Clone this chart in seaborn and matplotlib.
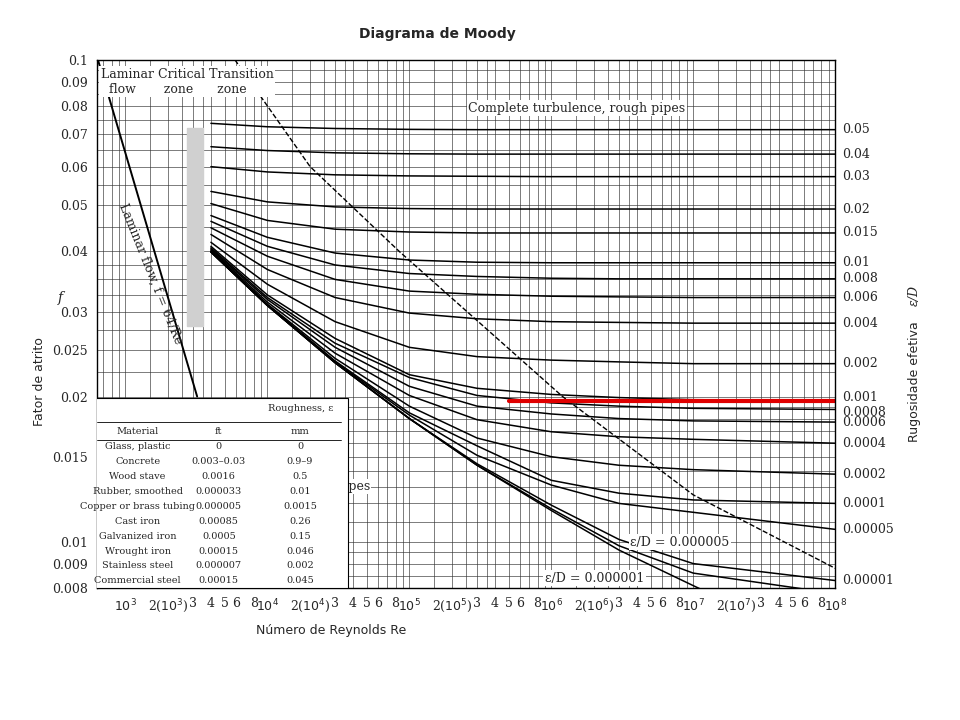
import matplotlib
matplotlib.use("Agg")
import matplotlib.pyplot as plt
import seaborn as sns
import pandas as pd
import numpy as np
from matplotlib.ticker import FixedLocator

sns.set_theme(style="white")
plt.rcParams['font.family'] = ['DejaVu Serif']

re_pts = [4e3, 1e4, 3e4, 1e5, 3e5, 1e6, 3e6, 1e7, 1e8]
curves = {
    "0.05":     [0.0738, 0.0726, 0.0720, 0.0717, 0.0716, 0.0716, 0.0716, 0.0716, 0.0716],
    "0.04":     [0.0660, 0.0648, 0.0641, 0.0638, 0.0637, 0.0637, 0.0637, 0.0637, 0.0637],
    "0.03":     [0.0600, 0.0585, 0.0577, 0.0574, 0.0573, 0.0572, 0.0572, 0.0572, 0.0572],
    "0.02":     [0.0533, 0.0507, 0.0495, 0.0491, 0.0490, 0.0490, 0.0490, 0.0490, 0.0490],
    "0.015":    [0.0503, 0.0464, 0.0445, 0.0439, 0.0437, 0.0437, 0.0437, 0.0437, 0.0437],
    "0.01":     [0.0475, 0.0428, 0.0397, 0.0384, 0.0380, 0.0379, 0.0379, 0.0379, 0.0379],
    "0.008":    [0.0462, 0.0410, 0.0375, 0.0360, 0.0355, 0.0352, 0.0351, 0.0351, 0.0351],
    "0.006":    [0.0448, 0.0391, 0.0350, 0.0331, 0.0326, 0.0323, 0.0322, 0.0321, 0.0321],
    "0.004":    [0.0434, 0.0367, 0.0321, 0.0298, 0.0290, 0.0286, 0.0285, 0.0284, 0.0284],
    "0.002":    [0.0418, 0.0342, 0.0286, 0.0253, 0.0242, 0.0238, 0.0236, 0.0234, 0.0234],
    "0.001":    [0.0410, 0.0325, 0.0264, 0.0222, 0.0208, 0.0202, 0.0199, 0.0197, 0.0196],
    "0.0008":   [0.0407, 0.0321, 0.0258, 0.0219, 0.0201, 0.0194, 0.0191, 0.0189, 0.0188],
    "0.0006":   [0.0405, 0.0318, 0.0253, 0.0210, 0.0191, 0.0184, 0.0180, 0.0178, 0.0177],
    "0.0004":   [0.0403, 0.0314, 0.0246, 0.0201, 0.0179, 0.0169, 0.0165, 0.0163, 0.0160],
    "0.0002":   [0.0401, 0.0311, 0.0240, 0.0191, 0.0164, 0.0150, 0.0144, 0.0141, 0.0138],
    "0.0001":   [0.0400, 0.0310, 0.0237, 0.0185, 0.0158, 0.0134, 0.0126, 0.0122, 0.0120],
    "0.00005":  [0.0400, 0.0309, 0.0236, 0.0183, 0.0151, 0.0131, 0.0120, 0.0115, 0.0106],
    "0.00001":  [0.0399, 0.0309, 0.0235, 0.0180, 0.0145, 0.0119, 0.0101, 0.0090, 0.0083],
    "0.000005": [0.0399, 0.0309, 0.0235, 0.0180, 0.0144, 0.0117, 0.0098, 0.0086, 0.0078],
    "smooth":   [0.0399, 0.0309, 0.0235, 0.0180, 0.0144, 0.0116, 0.0096, 0.0081, 0.0059],
}
right_labels = ["0.05", "0.04", "0.03", "0.02", "0.015", "0.01", "0.008", "0.006", "0.004",
                "0.002", "0.001", "0.0008", "0.0006", "0.0004", "0.0002", "0.0001",
                "0.00005", "0.00001"]
lam_re = [640, 3200]
lam_f = [0.1, 0.02]
dash_re = [5.9e3, 2e4, 8.5e4, 1.2e6, 1e7, 1e8]
dash_f = [0.1, 0.06, 0.04, 0.02, 0.0125, 0.0088]
red_re = [5e5, 1e8]
red_f = [0.0196, 0.0196]

materials = ["Glass, plastic", "Concrete", "Wood stave", "Rubber, smoothed",
             "Copper or brass tubing", "Cast iron", "Galvanized iron",
             "Wrought iron", "Stainless steel", "Commercial steel"]
rough_ft = ["0", "0.003–0.03", "0.0016", "0.000033", "0.000005", "0.00085",
            "0.0005", "0.00015", "0.000007", "0.00015"]
rough_mm = ["0", "0.9–9", "0.5", "0.01", "0.0015", "0.26", "0.15", "0.046",
            "0.002", "0.045"]

fig = plt.figure(figsize=(9.6, 7.2), dpi=100)
ax = fig.add_axes([0.101, 0.183, 0.769, 0.734])
ax.set_xscale("log"); ax.set_yscale("log")
ax.set_xlim(630, 1e8); ax.set_ylim(0.008, 0.1)

rows = []
for k, v in curves.items():
    for r, f in zip(re_pts, v):
        rows.append({"Re": r, "f": f, "c": k})
df = pd.DataFrame(rows)
sns.lineplot(data=df, x="Re", y="f", units="c", estimator=None, color="black",
             lw=1.1, ax=ax)
sns.lineplot(x=lam_re, y=lam_f, color="black", lw=1.4, ax=ax)
sns.lineplot(x=dash_re, y=dash_f, color="black", lw=1, ls="--", ax=ax)
sns.lineplot(x=red_re, y=red_f, color="#e00000", lw=3, ax=ax)
ax.set_xlabel(""); ax.set_ylabel("")

xt = [m * 10**e for e in range(3, 8) for m in range(1, 10)] + [1e8]
ax.xaxis.set_major_locator(FixedLocator(xt))
ax.xaxis.set_minor_locator(FixedLocator([])); ax.yaxis.set_minor_locator(FixedLocator([]))
xl = []
for e in range(3, 8):
    for m in range(1, 10):
        if m == 1: xl.append(f"$10^{e}$")
        elif m == 2: xl.append(f"2($10^{e}$)")
        elif m in (7, 9): xl.append("")
        else: xl.append(str(m))
xl.append("$10^8$")
ax.set_xticklabels(xl, fontsize=9)
ax.set_yticks([0.008, 0.009, 0.01, 0.015, 0.02, 0.025, 0.03, 0.04, 0.05, 0.06, 0.07, 0.08, 0.09, 0.1])
ax.set_yticklabels(["0.008", "0.009", "0.01", "0.015", "0.02", "0.025", "0.03", "0.04",
                    "0.05", "0.06", "0.07", "0.08", "0.09", "0.1"], fontsize=9)
gx = [m * 10**e for e in range(2, 8) for m in [1, 1.5, 2, 2.5, 3, 3.5, 4, 5, 6, 7, 8, 9]]
for g in gx:
    if 630 <= g <= 1e8:
        ax.axvline(g, color="#333333", lw=0.45, zorder=0)
gy = [0.008 + 0.0005 * i for i in range(4)] + [0.01 + 0.001 * i for i in range(10)] \
     + [0.02 + 0.0025 * i for i in range(8)] + [0.04 + 0.005 * i for i in range(12)]
for g in gy:
    if g <= 0.1:
        ax.axhline(g, color="#333333", lw=0.45, zorder=0)
for s in ax.spines.values():
    s.set_color("black"); s.set_linewidth(1)
ax.tick_params(axis="both", length=3, color="black")

offs = {"0.001": 0.0003, "0.0008": -0.0003}
for lab in right_labels:
    ax.text(1.01, curves[lab][-1] + offs.get(lab, 0), lab, transform=ax.get_yaxis_transform(),
            va="center", ha="left", fontsize=9)

bb = dict(fc="white", ec="none", pad=1)
ax.text(0.005, 0.985, "Laminar Critical Transition\n  flow       zone      zone", transform=ax.transAxes,
        fontsize=9, va="top", bbox=bb)
ax.text(2.6e5, 0.078, "Complete turbulence, rough pipes", fontsize=9, bbox=bb)
ax.text(1.3e4, 0.0128, "Smooth pipes", fontsize=9, bbox=bb)
ax.text(9e5, 0.00825, "ε/D = 0.000001", fontsize=9, bbox=bb)
ax.text(3.6e6, 0.0098, "ε/D = 0.000005", fontsize=9, bbox=bb)
ax.text(1500, 0.036, "Laminar flow, f = 64/Re", rotation=-68, fontsize=9, ha="center", va="center")
ax.fill_betweenx([0.028, 0.072], 2700, 3500, color="#d0d0d0", zorder=1)

ax.add_patch(plt.Rectangle((-0.01, 0.0), 0.35, 0.36, transform=ax.transAxes,
                           fc="white", ec="black", lw=0.8, zorder=5))
cell = [[m, a, b] for m, a, b in zip(materials, rough_ft, rough_mm)]
tb = ax.table(cellText=cell, colLabels=["Material", "ft", "mm"], cellLoc="center",
              bbox=[0.0, 0.0, 0.33, 0.31], edges="open")
tb.set_zorder(6)
tb.auto_set_font_size(False); tb.set_fontsize(7)
for (r, c), ce in tb.get_celld().items():
    ce.set_facecolor("none")
ax.text(0.32, 0.335, "Roughness, ε", transform=ax.transAxes, fontsize=7, ha="right", zorder=7)
ax.plot([0.0, 0.33], [0.315, 0.315], transform=ax.transAxes, color="black", lw=0.6, zorder=7)
ax.plot([0.0, 0.33], [0.28, 0.28], transform=ax.transAxes, color="black", lw=0.6, zorder=7)

fig.text(0.456, 0.947, "Diagrama de Moody", fontsize=10, weight="bold", ha="center",
         family="DejaVu Sans")
fig.text(0.06, 0.58, "f", fontsize=10, style="italic")
fig.text(0.034, 0.47, "Fator de atrito", rotation=90, fontsize=9, va="center",
         family="DejaVu Sans")
fig.text(0.946, 0.47, "Rugosidade efetiva", rotation=90, fontsize=9, va="center",
         family="DejaVu Sans")
fig.text(0.946, 0.59, "ε/D", rotation=90, fontsize=9, va="center", style="italic")
fig.text(0.345, 0.12, "Número de Reynolds Re", fontsize=9, ha="center", family="DejaVu Sans")
fig.savefig("out.png", dpi=100, facecolor="white")
